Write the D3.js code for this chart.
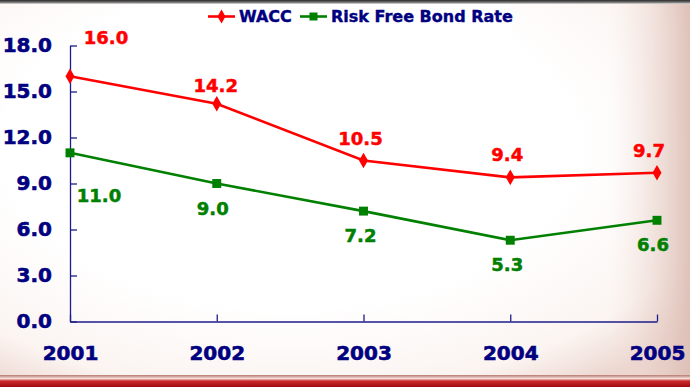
<!DOCTYPE html>
<html>
<head>
<meta charset="utf-8">
<script src="https://cdn.jsdelivr.net/npm/d3@7/dist/d3.min.js"></script>
<style>
  html, body { margin: 0; padding: 0; background: #fff; }
  svg { display: block; }
</style>
</head>
<body>
<div id="chart"></div>
<script>
// chart values
const years = ["2001", "2002", "2003", "2004", "2005"]
const wacc = [16.0, 14.2, 10.5, 9.4, 9.7]
const riskFree = [11.0, 9.0, 7.2, 5.3, 6.6]
const yTicks = [0, 3, 6, 9, 12, 15, 18]
const seriesNames = ["WACC", "Risk Free Bond Rate"]

let width = 690,
    height = 387

let navy = "#000080",
    red = "#ff0000",
    green = "#008000",
    font = "'DejaVu Sans', Verdana, sans-serif"

let svg = d3.select("#chart")
    .append("svg")
    .attr("width", width)
    .attr("height", height)

// background: white slide with a soft pink vignette, dark top edge, red footer
let defs = svg.append("defs")

let vign = defs.append("radialGradient")
    .attr("id", "vign")
    .attr("cx", "0.42").attr("cy", "0.38").attr("r", "0.75")
vign.append("stop").attr("offset", "0.55").attr("stop-color", "#ffffff")
vign.append("stop").attr("offset", "0.85").attr("stop-color", "#fbf4f1")
vign.append("stop").attr("offset", "1").attr("stop-color", "#ecd6cf")

let rightEdge = defs.append("linearGradient")
    .attr("id", "rightEdge")
    .attr("x1", "0").attr("x2", "1").attr("y1", "0").attr("y2", "0")
rightEdge.append("stop").attr("offset", "0").attr("stop-color", "#f3e2dc").attr("stop-opacity", 0)
rightEdge.append("stop").attr("offset", "1").attr("stop-color", "#dcbdb3").attr("stop-opacity", 0.9)

let topEdge = defs.append("linearGradient")
    .attr("id", "topEdge")
    .attr("x1", "0").attr("x2", "0").attr("y1", "0").attr("y2", "1")
topEdge.append("stop").attr("offset", "0").attr("stop-color", "#2a2a2a")
topEdge.append("stop").attr("offset", "0.6").attr("stop-color", "#777")
topEdge.append("stop").attr("offset", "1").attr("stop-color", "#e8e4e2")

let footer = defs.append("linearGradient")
    .attr("id", "footer")
    .attr("x1", "0").attr("x2", "0").attr("y1", "0").attr("y2", "1")
footer.append("stop").attr("offset", "0").attr("stop-color", "#b77a70")
footer.append("stop").attr("offset", "0.3").attr("stop-color", "#f4e0dc")
footer.append("stop").attr("offset", "0.5").attr("stop-color", "#cc2a2a")
footer.append("stop").attr("offset", "1").attr("stop-color", "#a00a10")

svg.append("rect").attr("width", width).attr("height", height).attr("fill", "url(#vign)")
svg.append("rect").attr("x", 610).attr("width", 80).attr("height", height).attr("fill", "url(#rightEdge)")
svg.append("rect").attr("width", width).attr("height", 4).attr("fill", "url(#topEdge)")
svg.append("rect").attr("y", 375).attr("width", width).attr("height", 12).attr("fill", "url(#footer)")

// scales
let x = d3.scalePoint().domain(years).range([70, 657])
let y = d3.scaleLinear().domain([0, 18]).range([321.5, 45.5])

// axes
svg.append("g")
    .attr("transform", "translate(70,0)")
    .call(d3.axisLeft(y).tickValues(yTicks).tickFormat(d3.format(".1f"))
        .tickSizeInner(-7).tickSizeOuter(0).tickPadding(18))

svg.append("g")
    .attr("transform", "translate(0,321.5)")
    .call(d3.axisBottom(x).tickSizeInner(-7).tickSizeOuter(0).tickPadding(24))

svg.selectAll(".domain, .tick line")
    .attr("stroke", "#1c1c8a")
    .attr("stroke-width", 1.3)

svg.selectAll(".tick text")
    .attr("fill", navy)
    .attr("stroke", navy)
    .attr("stroke-width", 0.6)
    .attr("font-family", font)
    .attr("font-weight", "bold")
    .attr("font-size", 20)

// series
let series = [
    { name: seriesNames[0], values: wacc, color: red, shape: d3.symbolDiamond, size: 70 },
    { name: seriesNames[1], values: riskFree, color: green, shape: d3.symbolSquare, size: 80 }
]

// label offsets from each point (dx, dy of baseline), as placed on the slide
let labelOffsets = [
    [[36, -32], [-1, -12], [-3, -16], [-3, -16], [-8, -16]],
    [[29, 49], [-4, 31], [-3, 31], [-3, 31], [-4, 31]]
]

let line = d3.line()
    .x(function (d, i) { return x(years[i]) })
    .y(function (d) { return y(d) })

series.forEach(function (s, si) {
    svg.append("path")
        .datum(s.values)
        .attr("d", line)
        .attr("fill", "none")
        .attr("stroke", s.color)
        .attr("stroke-width", 2.6)

    svg.selectAll(".pt" + si)
        .data(s.values)
        .enter().append("path")
        .attr("class", "pt" + si)
        .attr("d", d3.symbol().type(s.shape).size(s.size))
        .attr("transform", function (d, i) { return "translate(" + x(years[i]) + "," + y(d) + ")" })
        .attr("fill", s.color)

    svg.selectAll(".lbl" + si)
        .data(s.values)
        .enter().append("text")
        .attr("class", "lbl" + si)
        .attr("x", function (d, i) { return x(years[i]) + labelOffsets[si][i][0] })
        .attr("y", function (d, i) { return y(d) + labelOffsets[si][i][1] })
        .attr("text-anchor", "middle")
        .attr("fill", s.color)
        .attr("stroke", s.color)
        .attr("stroke-width", 0.5)
        .attr("font-family", font)
        .attr("font-weight", "bold")
        .attr("font-size", 18)
        .text(function (d) { return d3.format(".1f")(d) })
})

// legend
let legend = svg.append("g")
legend.append("rect")
    .attr("x", 205).attr("y", 4)
    .attr("width", 306).attr("height", 26)
    .attr("fill", "#ffffff")

let legendX = [208, 300]
series.forEach(function (s, i) {
    let g = legend.append("g").attr("transform", "translate(" + legendX[i] + ",16.5)")
    g.append("line")
        .attr("x1", 0).attr("x2", 27)
        .attr("stroke", s.color).attr("stroke-width", 2.6)
    g.append("path")
        .attr("d", d3.symbol().type(s.shape).size(s.size * 0.8))
        .attr("transform", "translate(13.5,0)")
        .attr("fill", s.color)
    g.append("text")
        .attr("x", 31)
        .attr("dy", "0.36em")
        .attr("fill", navy)
        .attr("stroke", navy)
        .attr("stroke-width", 0.4)
        .attr("font-family", font)
        .attr("font-weight", "bold")
        .attr("font-size", 16)
        .text(s.name)
})
</script>
</body>
</html>
